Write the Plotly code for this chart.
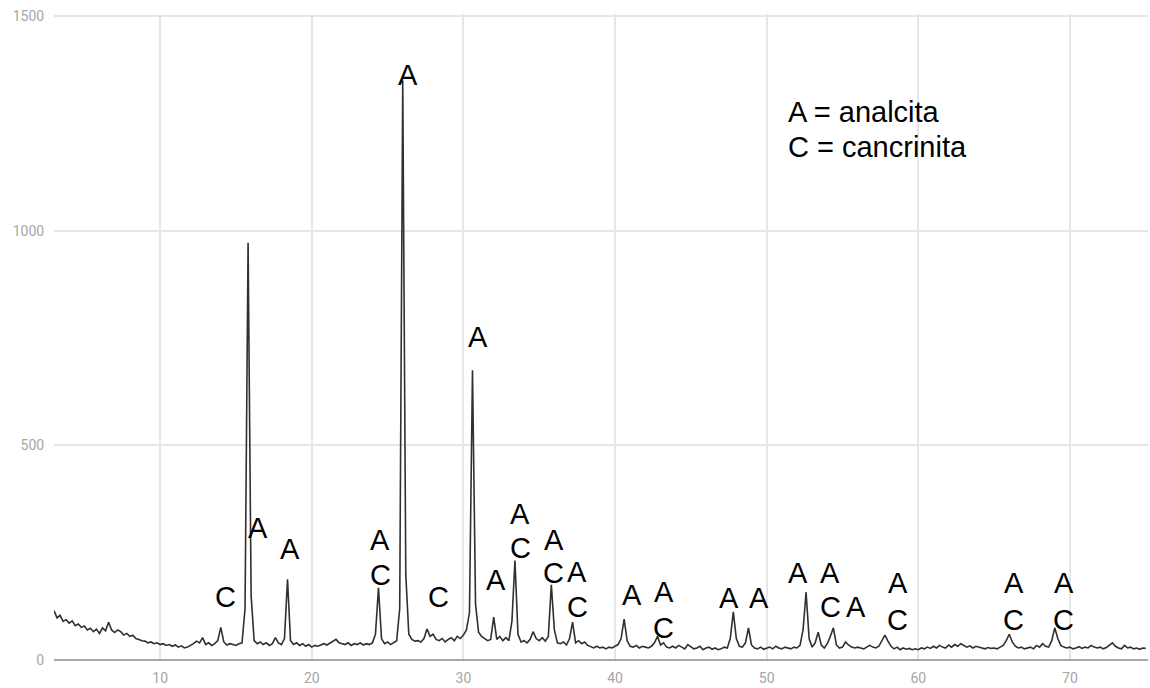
import numpy as np
import plotly.graph_objects as go

# 2-theta sampling grid (degrees), step 0.2 from 3.0 to 75.0
theta_start, theta_stop, theta_step = 3.0, 75.0, 0.2

# Intensity (one row per degree: x.0, x.2, x.4, x.6, x.8)
intensity = [
    115, 98, 104, 90, 94,      # 3
    86, 91, 80, 84, 76,        # 4
    79, 70, 74, 66, 72,        # 5
    62, 75, 68, 88, 70,        # 6
    64, 70, 66, 58, 62,        # 7
    55, 58, 50, 48, 45,        # 8
    44, 40, 42, 38, 40,        # 9
    36, 38, 34, 36, 32,        # 10
    35, 30, 33, 28, 30,        # 11
    34, 38, 44, 40, 52,        # 12
    36, 40, 34, 38, 45,        # 13
    76, 42, 35, 38, 36,        # 14
    34, 38, 40, 120, 972,      # 15
    150, 45, 38, 42, 36,       # 16
    40, 34, 38, 52, 40,        # 17
    36, 50, 188, 45, 36,       # 18
    40, 34, 38, 32, 36,        # 19
    30, 34, 32, 36, 38,        # 20
    35, 40, 44, 48, 40,        # 21
    38, 36, 40, 34, 38,        # 22
    36, 40, 35, 38, 36,        # 23
    40, 60, 168, 50, 38,       # 24
    42, 36, 40, 45, 120,       # 25
    1350, 200, 60, 48, 44,     # 26
    45, 42, 50, 72, 55,        # 27
    60, 48, 45, 50, 42,        # 28
    48, 52, 45, 55, 50,        # 29
    58, 70, 110, 675, 130,     # 30
    65, 55, 50, 45, 48,        # 31
    100, 48, 55, 45, 52,       # 32
    45, 90, 232, 60, 42,       # 33
    45, 40, 48, 66, 50,        # 34
    45, 52, 44, 55, 175,       # 35
    70, 40, 38, 42, 35,        # 36
    50, 88, 40, 45, 38,        # 37
    42, 34, 30, 28, 32,        # 38
    28, 30, 26, 30, 28,        # 39
    32, 36, 50, 95, 45,        # 40
    32, 30, 34, 28, 32,        # 41
    30, 28, 32, 40, 55,        # 42
    35, 40, 30, 28, 32,        # 43
    28, 34, 30, 26, 36,        # 44
    30, 26, 28, 32, 24,        # 45
    28, 30, 25, 28, 24,        # 46
    26, 30, 28, 50, 112,       # 47
    50, 32, 30, 40, 75,        # 48
    35, 28, 26, 30, 25,        # 49
    28, 30, 26, 32, 28,        # 50
    26, 30, 28, 26, 30,        # 51
    28, 34, 70, 158, 50,       # 52
    30, 40, 65, 35, 28,        # 53
    38, 55, 75, 35, 28,        # 54
    30, 42, 35, 30, 28,        # 55
    30, 28, 26, 30, 34,        # 56
    30, 28, 32, 45, 58,        # 57
    44, 32, 26, 30, 24,        # 58
    28, 25, 27, 24, 26,        # 59
    24, 28, 26, 30, 27,        # 60
    32, 28, 34, 30, 28,        # 61
    35, 30, 36, 32, 38,        # 62
    34, 30, 33, 28, 32,        # 63
    30, 28, 26, 29, 27,        # 64
    28, 26, 30, 34, 45,        # 65
    60, 42, 32, 28, 30,        # 66
    26, 28, 30, 26, 34,        # 67
    30, 38, 32, 30, 45,        # 68
    75, 50, 34, 30, 28,        # 69
    30, 26, 28, 31, 27,        # 70
    30, 28, 34, 30, 28,        # 71
    30, 26, 29, 34, 40,        # 72
    32, 28, 26, 34, 28,        # 73
    30, 26, 28, 25, 28,        # 74
    27,                        # 75
]

two_theta = np.round(theta_start + theta_step * np.arange(len(intensity)), 2)

# Peak labels (text, 2-theta, intensity level of label centre)
label_text = ["C", "A", "A", "A", "C", "A", "C", "A", "A", "A", "C",
              "A", "C", "A", "C", "A", "A", "C", "A", "A", "A", "A", "C",
              "A", "A", "C", "A", "C", "A", "C"]
label_x = [14.29, 16.47, 18.58, 24.52, 24.52, 26.37, 28.35, 30.99, 32.17, 33.76, 33.76,
           36.0, 35.95, 37.52, 37.52, 41.15, 43.2, 43.2, 47.5, 49.47, 52.04, 54.16, 54.2,
           55.87, 58.65, 58.65, 66.3, 66.3, 69.6, 69.6]
label_y = [147, 307, 258, 280, 198, 1363, 147, 752, 186, 340, 261,
           280, 203, 205, 124, 151, 158, 75, 144, 144, 202, 202, 123,
           123, 179, 93, 179, 93, 179, 93]

legend_lines = ["A = analcita", "C = cancrinita"]
legend_x = 51.25
legend_y = [1276, 1195]

x_ticks = [10, 20, 30, 40, 50, 60, 70]
y_ticks = [0, 500, 1000, 1500]

fig = go.Figure()
fig.add_trace(go.Scatter(
    x=two_theta, y=intensity, mode="lines",
    line=dict(color="#303030", width=1.6),
    hoverinfo="x+y", showlegend=False,
))

annotations = []
for t, x, y in zip(label_text, label_x, label_y):
    annotations.append(dict(
        x=x, y=y, xref="x", yref="y", text=t, showarrow=False,
        xanchor="center", yanchor="middle",
        font=dict(family="Liberation Sans, Arial, sans-serif", size=29, color="#000000"),
    ))
for t, y in zip(legend_lines, legend_y):
    annotations.append(dict(
        x=legend_x, y=y, xref="x", yref="y", text=t, showarrow=False,
        xanchor="left", yanchor="middle",
        font=dict(family="Liberation Sans, Arial, sans-serif", size=29, color="#000000"),
    ))

fig.update_layout(
    width=1150, height=688,
    margin=dict(l=54, r=2, t=14, b=28),
    paper_bgcolor="#ffffff", plot_bgcolor="#ffffff",
    annotations=annotations,
    showlegend=False,
)
fig.update_xaxes(
    range=[3, 75.15], tickvals=x_ticks,
    showgrid=True, gridcolor="#e6e6e6", gridwidth=1.5,
    zeroline=False, showline=False,
    ticks="outside", ticklen=5, tickcolor="rgba(0,0,0,0)",
    tickfont=dict(family="Roboto, Arial, sans-serif", size=14, color="#a6a6a6"),
)
fig.update_yaxes(
    range=[0, 1505], tickvals=y_ticks,
    showgrid=True, gridcolor="#e6e6e6", gridwidth=1.5,
    zeroline=True, zerolinecolor="#a8a8a8", zerolinewidth=2,
    showline=False,
    ticks="outside", ticklen=6, tickcolor="rgba(0,0,0,0)",
    tickfont=dict(family="Roboto, Arial, sans-serif", size=14, color="#a6a6a6"),
)

# remove the default 8px page margin so the figure sits at the window's corner
fig.write_html("out.html", config={"displayModeBar": False},
               post_script="document.body.style.margin='0';")
